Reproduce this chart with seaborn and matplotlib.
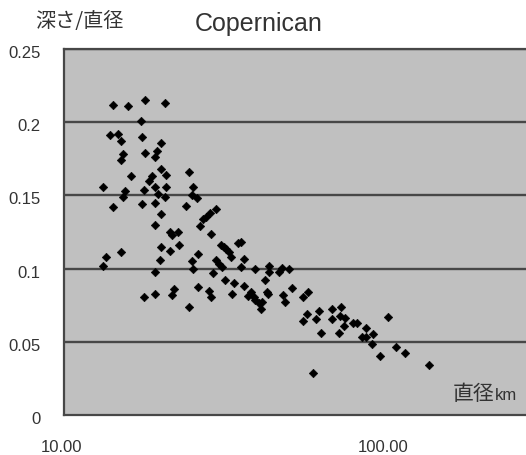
import matplotlib
matplotlib.use("Agg")
import matplotlib.pyplot as plt
import matplotlib.transforms as mtransforms
import seaborn as sns
import pandas as pd
from matplotlib.ticker import FixedLocator, NullLocator

# Crater diameter (km) and depth/diameter ratio, Copernican-age craters
diameter_km = [14.2, 15.8, 17.9, 20.6, 17.3, 13.9, 14.7, 15.0, 17.5, 20.0,
               15.3, 15.0, 17.9, 19.5, 19.2, 20.0, 20.7, 16.1, 18.7, 18.3,
               13.2, 15.5, 15.2, 17.7, 19.2, 20.8, 19.6, 20.6, 19.2, 17.5,
               14.2, 24.5, 25.2, 24.9, 25.8, 24.0, 20.0, 19.1, 21.4, 22.6,
               21.6, 26.4, 20.0, 21.3, 22.8, 13.5, 15.0, 13.2, 19.8, 19.1,
               24.9, 25.2, 26.1, 26.1, 22.0, 21.7, 17.7, 19.2, 24.4,
               29.6, 28.4, 27.6, 27.0, 28.6, 30.7, 35.4, 34.8, 31.8, 32.5, 32.9, 31.4,
               36.2, 29.6, 30.3, 31.0, 35.4, 39.1, 43.2, 43.2, 46.4, 47.5, 49.8,
               29.0, 42.2, 31.6, 33.7, 36.2, 28.2, 28.6, 33.2, 38.0, 37.3, 38.9,
               39.3, 40.3, 41.2, 40.8, 42.7, 43.0, 47.8, 48.7, 51.0, 55.4, 57.2,
               56.8, 55.4, 61.7, 60.5, 62.9, 67.8, 67.8, 72.5, 72.0, 74.6, 74.2,
               71.6, 79.1, 81.0, 86.9, 83.9, 86.9, 91.2, 90.5, 101.4, 96.0, 107.1,
               114.7, 135.5, 59.4]

depth_ratio = [0.212, 0.211, 0.215, 0.213, 0.201, 0.191, 0.192, 0.187, 0.190, 0.186,
               0.178, 0.174, 0.179, 0.180, 0.176, 0.168, 0.164, 0.163, 0.163, 0.160,
               0.156, 0.153, 0.149, 0.154, 0.156, 0.156, 0.151, 0.149, 0.145, 0.144,
               0.142, 0.166, 0.156, 0.150, 0.148, 0.143, 0.137, 0.130, 0.125, 0.125,
               0.123, 0.129, 0.115, 0.112, 0.116, 0.108, 0.111, 0.102, 0.106, 0.098,
               0.105, 0.0995, 0.110, 0.0872, 0.0859, 0.0820, 0.0808, 0.0827, 0.0736,
               0.1405, 0.1378, 0.1355, 0.1337, 0.1236, 0.1161, 0.1184, 0.1173, 0.1132, 0.1115, 0.1081, 0.1145,
               0.1064, 0.1059, 0.1031, 0.1013, 0.1009, 0.0995, 0.1018, 0.0979, 0.0979, 0.1002, 0.0995,
               0.0968, 0.0922, 0.0922, 0.0904, 0.0881, 0.0849, 0.0808, 0.0827, 0.0842, 0.0813, 0.0808,
               0.0786, 0.0763, 0.0774, 0.0722, 0.0842, 0.0827, 0.0820, 0.0774, 0.0865, 0.0808, 0.0842,
               0.0690, 0.0644, 0.0712, 0.0654, 0.0562, 0.0722, 0.0656, 0.0740, 0.0676, 0.0661, 0.0608,
               0.0562, 0.0630, 0.0626, 0.0592, 0.0535, 0.0531, 0.0553, 0.0485, 0.0671, 0.0403, 0.0467,
               0.0421, 0.0342, 0.0285]

y_ticks = [0, 0.05, 0.1, 0.15, 0.2, 0.25]
y_tick_labels = ["0", "0.05", "0.1", "0.15", "0.2", "0.25"]
x_ticks = [10, 100]
x_tick_labels = ["10.00", "100.00"]

df = pd.DataFrame({"diameter": diameter_km, "ratio": depth_ratio})

sns.set_style("white")
plt.rcParams["font.family"] = ["Liberation Sans", "Noto Sans CJK JP", "DejaVu Sans"]

W, H = 526, 455
fig = plt.figure(figsize=(W / 100, H / 100), dpi=100)
ax = fig.add_axes([64 / W, 1 - 415 / H, 1 - 64 / W + 0.01, (415 - 49) / H])
ax.set_facecolor("#c0c0c0")

ax.set_xscale("log")
ax.set_xlim(10, 10 ** (1 + 470 / 324))
ax.set_ylim(0, 0.25)

# horizontal grid
for yv in y_ticks[1:]:
    ax.axhline(yv, color="#474747", lw=1.7, zorder=1)

sns.scatterplot(data=df, x="diameter", y="ratio", ax=ax, marker="D",
                s=19, color="black", edgecolor="black", linewidth=0.4, zorder=3)

ax.set_xlabel("")
ax.set_ylabel("")

ax.xaxis.set_major_locator(FixedLocator(x_ticks))
ax.xaxis.set_minor_locator(NullLocator())
ax.set_xticklabels(x_tick_labels)
ax.set_yticks(y_ticks)
ax.set_yticklabels(y_tick_labels)

ax.tick_params(axis="x", direction="in", length=5, width=1, color="#333333",
               pad=18, labelsize=12, labelcolor="#333333")
ax.tick_params(axis="y", length=0, pad=17, labelsize=12, labelcolor="#333333")

# y labels sit a little below their gridlines
offset = mtransforms.ScaledTranslation(0, -3 / 100, fig.dpi_scale_trans)
for lbl in ax.get_yticklabels():
    lbl.set_transform(lbl.get_transform() + offset)
# x labels shifted slightly left of their ticks
xoff = mtransforms.ScaledTranslation(-3 / 100, 0, fig.dpi_scale_trans)
for lbl in ax.get_xticklabels():
    lbl.set_transform(lbl.get_transform() + xoff)

for side in ["left", "bottom", "top"]:
    ax.spines[side].set_color("#474747")
    ax.spines[side].set_linewidth(1.6)
ax.spines["right"].set_visible(False)

fig.text(35 / W, 1 - 21 / H, "深さ/直径", fontsize=14.5, color="#333333",
         family=["Noto Sans CJK JP"], va="center", ha="left")
fig.text(195 / W, 1 - 24 / H, "Copernican", fontsize=18, color="#333333",
         va="center", ha="left")

# axis unit label inside the plot, lower right
fig.text(494 / W, 1 - 400 / H, "直径", fontsize=15, color="#333333",
         family=["Noto Sans CJK JP"], ha="right", va="baseline")
fig.text(495 / W, 1 - 400 / H, "km", fontsize=12, color="#333333",
         ha="left", va="baseline")

fig.savefig("out.png", dpi=100, facecolor="white")
